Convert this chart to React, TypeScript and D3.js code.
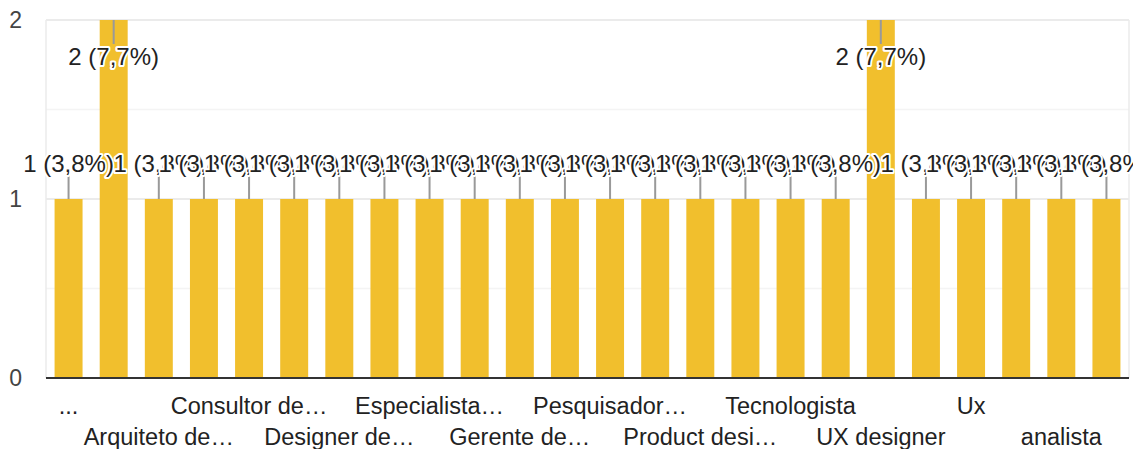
import React from "react";
import * as d3 from "d3";

const categories: string[] = [
  "...",
  "Analista de UX",
  "Arquiteto de…",
  "Coordenador de UX",
  "Consultor de…",
  "Designer",
  "Designer de…",
  "Designer UX/UI",
  "Especialista…",
  "Gerente",
  "Gerente de…",
  "Head de Design",
  "Pesquisador…",
  "Product designer",
  "Product desi…",
  "Senior UX Designer",
  "Tecnologista",
  "UI designer",
  "UX designer",
  "UX Researcher",
  "Ux",
  "UX/UI",
  "analista",
  "designer",
];
const counts: number[] = [1, 2, 1, 1, 1, 1, 1, 1, 1, 1, 1, 1, 1, 1, 1, 1, 1, 1, 2, 1, 1, 1, 1, 1];
const yTicks: number[] = [0, 1, 2];
const yMinor: number[] = [0.5, 1.5];

const W = 1133;
const H = 449;
const left = 46;
const right = 1129;
const top = 20;
const bottom = 378;
const FONT = "Arial, 'Liberation Sans', sans-serif";
const BAR = "#f1bf2d";

export default function App() {
  const total = d3.sum(counts);
  const x = d3
    .scaleBand<number>()
    .domain(categories.map((_, i) => i))
    .range([left, right])
    .paddingInner(0.38)
    .paddingOuter(0.19);
  const y = d3.scaleLinear().domain([0, 2]).range([bottom, top]);
  const fmt = (v: number) =>
    `${v} (${((v / total) * 100).toFixed(1).replace(".", ",")}%)`;

  return (
    <svg
      width={W}
      height={H}
      style={{ position: "absolute", left: 0, top: 0, background: "#fff" }}
      fontFamily={FONT}
    >
      {yMinor.map((t) => (
        <line key={"m" + t} x1={left} x2={right} y1={y(t)} y2={y(t)} stroke="#f4f4f4" strokeWidth={1.5} />
      ))}
      {yTicks.filter((t) => t > 0).map((t) => (
        <line key={"g" + t} x1={left} x2={right} y1={y(t)} y2={y(t)} stroke="#ebebeb" strokeWidth={2} />
      ))}
      <line x1={left} x2={left} y1={top} y2={bottom} stroke="#ebebeb" strokeWidth={1.5} />
      <line x1={right} x2={right} y1={top} y2={bottom} stroke="#ebebeb" strokeWidth={1.5} />
      {yTicks.map((t) => (
        <text
          key={"t" + t}
          x={22}
          y={y(t)}
          textAnchor="end"
          dominantBaseline="central"
          fontSize={23}
          fill="#444"
        >
          {t}
        </text>
      ))}
      {counts.map((v, i) => (
        <rect
          key={"b" + i}
          x={x(i)!}
          y={y(v)}
          width={x.bandwidth()}
          height={y(0) - y(v)}
          fill={BAR}
        />
      ))}
      <line x1={left} x2={right} y1={bottom} y2={bottom} stroke="#333" strokeWidth={2} />
      {categories.map((c, i) =>
        i % 2 === 0 ? (
          <text
            key={"x" + i}
            x={x(i)! + x.bandwidth() / 2}
            y={(i / 2) % 2 === 0 ? 414 : 445}
            textAnchor="middle"
            fontSize={23.5}
            fill="#222"
          >
            {c}
          </text>
        ) : null
      )}
      {counts.map((v, i) => {
        const cx = x(i)! + x.bandwidth() / 2;
        const inside = v === 2;
        const y0 = y(v);
        const y1 = inside ? y0 + 24 : y0 - 24;
        const ty = inside ? y0 + 45 : y0 - 27;
        return (
          <g key={"a" + i}>
            <line x1={cx} x2={cx} y1={y0} y2={y1} stroke="#999" strokeWidth={2} />
            <text
              x={cx}
              y={ty}
              textAnchor="middle"
              fontSize={24}
              fill="#222"
              stroke="#fff"
              strokeWidth={4}
              strokeLinejoin="round"
              paintOrder="stroke"
            >
              {fmt(v)}
            </text>
          </g>
        );
      })}
    </svg>
  );
}
